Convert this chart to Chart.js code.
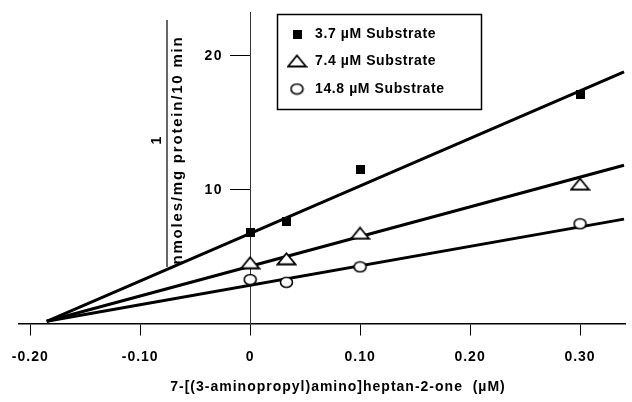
<!DOCTYPE html>
<html lang="en">
<head>
<meta charset="UTF-8">
<meta name="viewport" content="width=device-width, initial-scale=1.0">
<title>Dixon plot</title>
<script src="https://cdn.jsdelivr.net/npm/chart.js"></script>
<style>
    html, body { margin: 0; padding: 0; background: #fff; }
    #wrap { width: 632px; height: 402px; }
</style>
</head>
<body>
<div id="wrap"><canvas id="dixon"></canvas></div>
<script>
// inhibitor concentration (uM) and 1/v for each substrate level
const inhibitor = [0, 0.033, 0.1, 0.3];
const sub37 = [6.8, 7.65, 11.5, 17.05];
const sub74 = [4.55, 4.85, 6.75, 10.4];
const sub148 = [3.3, 3.1, 4.25, 7.45];

// end points of the fitted lines
const fitX = [-0.185, 0.34];
const fit37 = [0.2, 18.75];
const fit74 = [0.2, 11.8];
const fit148 = [0.2, 7.8];

const seriesLabels = ['3.7 \u00b5M Substrate', '7.4 \u00b5M Substrate', '14.8 \u00b5M Substrate'];
const xTicks = [-0.2, -0.1, 0, 0.1, 0.2, 0.3];
const yTicks = [10, 20];
const xTitle = '7-[(3-aminopropyl)amino]heptan-2-one  (\u00b5M)';
const yTitleTop = '1';
const yTitleBottom = 'nmoles/mg protein/10 min';

const FONT = '"Liberation Sans", Arial, sans-serif';

// marker images
function makeSquare() {
    const c = document.createElement('canvas');
    c.width = 9; c.height = 9;
    const g = c.getContext('2d');
    g.fillStyle = '#000';
    g.fillRect(0, 0, 9, 9);
    return c;
}
function makeTriangle() {
    const c = document.createElement('canvas');
    c.width = 21; c.height = 14;
    const g = c.getContext('2d');
    g.beginPath();
    g.moveTo(10.5, 1.5); g.lineTo(19.5, 12.5); g.lineTo(1.5, 12.5); g.closePath();
    g.fillStyle = '#fff'; g.fill();
    g.lineWidth = 1.8; g.strokeStyle = '#000'; g.stroke();
    return c;
}
function makeCircle() {
    const c = document.createElement('canvas');
    c.width = 15; c.height = 13;
    const g = c.getContext('2d');
    g.beginPath();
    g.ellipse(7.5, 6.5, 6, 5, 0, 0, Math.PI * 2);
    g.fillStyle = '#fff'; g.fill();
    g.lineWidth = 1.6; g.strokeStyle = '#000'; g.stroke();
    return c;
}
const markers = [makeSquare(), makeTriangle(), makeCircle()];

function pts(xs, ys) {
    return xs.map((x, i) => ({x: x, y: ys[i]}));
}

function fitLine(ys) {
    return {
        type: 'line',
        data: pts(fitX, ys),
        borderColor: '#000',
        borderWidth: 3,
        pointRadius: 0,
        showLine: true,
        fill: false,
        order: 2
    };
}

function pointSet(ys, i) {
    return {
        type: 'scatter',
        label: seriesLabels[i],
        data: pts(inhibitor, ys),
        pointStyle: markers[i],
        pointRadius: 6,
        order: 1
    };
}

// wider letter spacing for the axis tick labels, like the printed figure
const spacing = {
    id: 'spacing',
    beforeDraw(chart) { chart.ctx.letterSpacing = '1px'; },
    afterDraw(chart) { chart.ctx.letterSpacing = '0px'; }
};

const legendBox = {
    id: 'legendBox',
    afterDraw(chart) {
        const ctx = chart.ctx;
        ctx.save();
        ctx.letterSpacing = '0.6px';
        ctx.strokeStyle = '#000';
        ctx.lineWidth = 1.5;
        ctx.strokeRect(277.5, 14.5, 204, 95);
        const rows = [34, 61, 89];
        ctx.font = 'bold 14px ' + FONT;
        ctx.fillStyle = '#000';
        ctx.textBaseline = 'middle';
        seriesLabels.forEach((lab, i) => {
            const m = markers[i];
            ctx.drawImage(m, 297 - m.width / 2, rows[i] - m.height / 2);
            ctx.fillText(lab, 315, rows[i]);
        });
        ctx.restore();
    }
};

const axisTitles = {
    id: 'axisTitles',
    afterDraw(chart) {
        const ctx = chart.ctx;
        const xs = chart.scales.x, ys = chart.scales.y;
        ctx.save();
        ctx.fillStyle = '#000';
        ctx.font = 'bold 14px ' + FONT;

        // y tick labels, left of the outward ticks
        ctx.letterSpacing = '1.5px';
        ctx.textAlign = 'right';
        ctx.textBaseline = 'middle';
        const x0 = xs.getPixelForValue(0);
        yTicks.forEach(v => ctx.fillText(String(v), x0 - 27, ys.getPixelForValue(v) + 1));

        ctx.textAlign = 'center';
        ctx.letterSpacing = '1px';
        ctx.fillText(xTitle, 338, 387);

        // y title drawn as a fraction, rotated
        ctx.translate(167, 145);
        ctx.rotate(-Math.PI / 2);
        ctx.fillText(yTitleTop, 5, -10);
        ctx.strokeStyle = '#000';
        ctx.lineWidth = 1.2;
        ctx.beginPath();
        ctx.moveTo(-122, 0);
        ctx.lineTo(125, 0);
        ctx.stroke();
        ctx.letterSpacing = '1.8px';
        ctx.font = 'bold 15px ' + FONT;
        ctx.fillText(yTitleBottom, -5, 11);
        ctx.restore();
    }
};

new Chart(document.getElementById('dixon'), {
    type: 'scatter',
    data: {
        datasets: [
            fitLine(fit37), fitLine(fit74), fitLine(fit148),
            pointSet(sub37, 0), pointSet(sub74, 1), pointSet(sub148, 2)
        ]
    },
    options: {
        responsive: true,
        maintainAspectRatio: false,
        animation: false,
        events: [],
        layout: { padding: { left: 16, right: 0, top: 12, bottom: 78 } },
        plugins: {
            legend: { display: false },
            tooltip: { enabled: false }
        },
        scales: {
            x: {
                type: 'linear',
                position: { y: 0 },
                min: -0.21,
                max: 0.3409,
                afterBuildTicks: (s) => { s.ticks = xTicks.map(v => ({value: v})); },
                ticks: {
                    color: '#000',
                    padding: 14,
                    font: { family: FONT, size: 14, weight: 'bold' },
                    callback: (v) => v === 0 ? '0' : v.toFixed(2)
                },
                grid: {
                    drawOnChartArea: false,
                    drawTicks: true,
                    tickLength: 11,
                    tickColor: '#000',
                    tickWidth: 1
                },
                border: { display: true, color: '#000', width: 1.5 }
            },
            y: {
                type: 'linear',
                position: { x: 0 },
                min: 0,
                max: 23.2,
                afterBuildTicks: (s) => { s.ticks = yTicks.map(v => ({value: v})); },
                ticks: { display: false },
                grid: {
                    drawOnChartArea: false,
                    drawTicks: true,
                    tickLength: 20,
                    tickColor: '#000',
                    tickWidth: 1
                },
                border: { display: true, color: '#333', width: 1 }
            }
        }
    },
    plugins: [spacing, legendBox, axisTitles]
});
</script>
</body>
</html>
